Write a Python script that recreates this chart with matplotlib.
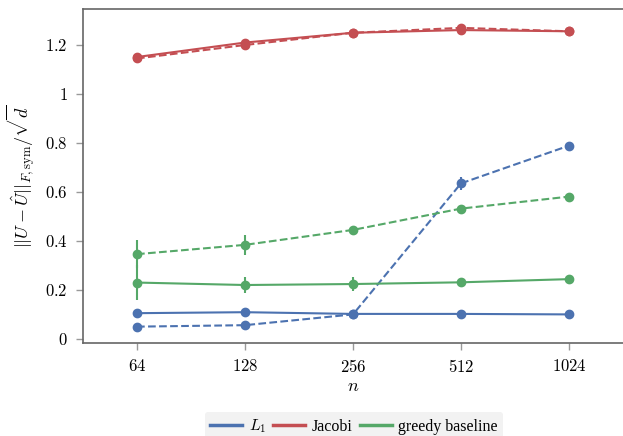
import numpy as np
import matplotlib
matplotlib.use("Agg")
import matplotlib.pyplot as plt

plt.rcParams['mathtext.fontset'] = 'cm'
plt.rcParams['font.family'] = 'serif'
plt.rcParams['font.serif'] = ['Liberation Serif', 'DejaVu Serif']

n_vals = [64, 128, 256, 512, 1024]
x_pos = np.log2(n_vals)

l1_solid = [0.105, 0.109, 0.102, 0.102, 0.100]
l1_dashed = [0.050, 0.056, 0.100, 0.635, 0.789]
l1_dashed_err = [0.0, 0.0, 0.0, 0.027, 0.0]

jac_solid = [1.151, 1.210, 1.250, 1.261, 1.256]
jac_dashed = [1.145, 1.200, 1.250, 1.270, 1.256]

gr_solid = [0.230, 0.220, 0.224, 0.231, 0.244]
gr_solid_err = [0.072, 0.034, 0.030, 0.0, 0.0]
gr_dashed = [0.346, 0.384, 0.445, 0.532, 0.581]
gr_dashed_err = [0.058, 0.040, 0.0, 0.0, 0.0]

yticks = [0, 0.2, 0.4, 0.6, 0.8, 1, 1.2]
ytick_labels = ['0', '0.2', '0.4', '0.6', '0.8', '1', '1.2']

blue, red, green = '#4C72B0', '#C44E52', '#55A868'

fig = plt.figure(figsize=(6.23, 4.36), dpi=100)
ax = fig.add_axes([83 / 623, 1 - 343.3 / 436, 1 - 83 / 623, (343.3 - 9) / 436])

kw = dict(marker='o', markersize=6, linewidth=1.5, elinewidth=1.5, capsize=0)
ax.errorbar(x_pos, l1_solid, color=blue, linestyle='-', **kw)
ax.errorbar(x_pos, l1_dashed, yerr=l1_dashed_err, color=blue, linestyle='--', **kw)
ax.errorbar(x_pos, jac_solid, color=red, linestyle='-', **kw)
ax.errorbar(x_pos, jac_dashed, color=red, linestyle='--', **kw)
ax.errorbar(x_pos, gr_solid, yerr=gr_solid_err, color=green, linestyle='-', **kw)
ax.errorbar(x_pos, gr_dashed, yerr=gr_dashed_err, color=green, linestyle='--', **kw)

ax.set_xlim(5.5, 10.5)
ax.set_ylim(-0.018, 1.347)
ax.set_xticks(x_pos)
ax.set_xticklabels(['$%d$' % v for v in n_vals], fontsize=12)
ax.set_yticks(yticks)
ax.set_yticklabels(['$%s$' % t for t in ytick_labels], fontsize=12)

for side in ['left', 'top', 'bottom']:
    ax.spines[side].set_color('#666666')
    ax.spines[side].set_linewidth(1.2)
ax.spines['right'].set_visible(False)
ax.tick_params(axis='both', color='#999999', length=5, width=1, pad=6)

ax.set_xlabel('$n$', fontsize=13, labelpad=2)
ax.set_ylabel(r'$||U-\hat{U}||_{F,\mathrm{sym}}/\sqrt{d}$', fontsize=13, labelpad=6)

handles = [plt.Line2D([], [], color=c, linewidth=2.5) for c in (blue, red, green)]
leg = fig.legend(handles, ['$L_1$', 'Jacobi', 'greedy baseline'],
                 loc='upper center', bbox_to_anchor=(354 / 623, 1 - 412 / 436),
                 borderaxespad=0, ncol=3, frameon=True, fontsize=11.5,
                 handlelength=2.0, columnspacing=0.45, handletextpad=0.4,
                 borderpad=0.35)
leg.get_frame().set_facecolor('#f2f2f2')
leg.get_frame().set_edgecolor('none')
leg.get_frame().set_alpha(1)

fig.savefig('out.png', dpi=100)
